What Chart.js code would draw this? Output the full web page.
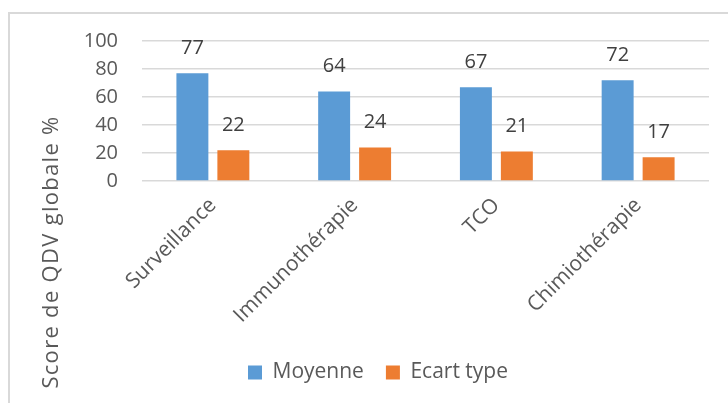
<!DOCTYPE html>
<html>
<head>
<meta charset="utf-8">
<script src="https://cdn.jsdelivr.net/npm/chart.js@4"></script>
<style>
  html, body { margin: 0; padding: 0; background: #ffffff; }
  #wrap { width: 728px; height: 403px; position: relative; }
</style>
</head>
<body>
<div id="wrap"><canvas id="c" width="728" height="403"></canvas></div>
<script>
const categories = ['Surveillance', 'Immunothérapie', 'TCO', 'Chimiothérapie'];
const moyenne = [77, 64, 67, 72];
const ecartType = [22, 24, 21, 17];
const seriesNames = ['Moyenne', 'Ecart type'];
const yTicks = [0, 20, 40, 60, 80, 100];
const yTitle = 'Score de QDV globale %';

const FONT = '"Open Sans", "Liberation Sans", sans-serif';
const TXT = '#595959';

const framePlugin = {
  id: 'frame',
  beforeDraw(chart) {
    const ctx = chart.ctx;
    ctx.save();
    ctx.fillStyle = '#ffffff';
    ctx.fillRect(0, 0, chart.width, chart.height);
    ctx.strokeStyle = '#d9d9d9';
    ctx.lineWidth = 2;
    ctx.strokeRect(9, 13, 900, 600);
    ctx.restore();
  }
};

const titlePlugin = {
  id: 'ytitle',
  afterDraw(chart) {
    const ctx = chart.ctx;
    ctx.save();
    ctx.translate(52, 252);
    ctx.rotate(-Math.PI / 2);
    ctx.font = '22px ' + FONT;
    if ('letterSpacing' in ctx) ctx.letterSpacing = '1.3px';
    ctx.fillStyle = TXT;
    ctx.textAlign = 'center';
    ctx.textBaseline = 'middle';
    ctx.fillText(yTitle, 0, 0);
    ctx.restore();
  }
};

const labelPlugin = {
  id: 'vlabels',
  afterDatasetsDraw(chart) {
    const ctx = chart.ctx;
    ctx.save();
    ctx.font = '20px ' + FONT;
    ctx.fillStyle = '#404040';
    ctx.textAlign = 'center';
    ctx.textBaseline = 'middle';
    chart.data.datasets.forEach((ds, i) => {
      chart.getDatasetMeta(i).data.forEach((bar, j) => {
        ctx.fillText(String(ds.data[j]), bar.x, bar.y - 25);
      });
    });
    ctx.restore();
  }
};

new Chart(document.getElementById('c'), {
  type: 'bar',
  data: {
    labels: categories,
    datasets: [
      { label: seriesNames[0], data: moyenne, backgroundColor: '#5B9BD5', categoryPercentage: 0.578, barPercentage: 0.78 },
      { label: seriesNames[1], data: ecartType, backgroundColor: '#ED7D31', categoryPercentage: 0.578, barPercentage: 0.78 }
    ]
  },
  options: {
    responsive: false,
    animation: false,
    layout: { padding: { left: 47, right: 19, top: 41, bottom: 10 } },
    scales: {
      x: {
        grid: { display: false, drawTicks: false },
        border: { display: false },
        ticks: { color: TXT, font: { family: FONT, size: 21 }, minRotation: 45, maxRotation: 45, padding: 12 },
        afterFit(scale) { scale.height = 159; }
      },
      y: {
        min: 0, max: 100,
        afterBuildTicks(scale) { scale.ticks = yTicks.map(v => ({ value: v })); },
        grid: { color: '#d9d9d9', lineWidth: 1.5, drawTicks: false },
        border: { display: false },
        ticks: { color: TXT, font: { family: FONT, size: 20 }, padding: 24 },
        afterFit(scale) { scale.width = 95; }
      }
    },
    plugins: {
      legend: {
        position: 'bottom',
        labels: { color: TXT, font: { family: FONT, size: 21 }, boxWidth: 14, boxHeight: 14, padding: 22 }
      },
      tooltip: { enabled: false }
    }
  },
  plugins: [framePlugin, titlePlugin, labelPlugin]
});
</script>
</body>
</html>
